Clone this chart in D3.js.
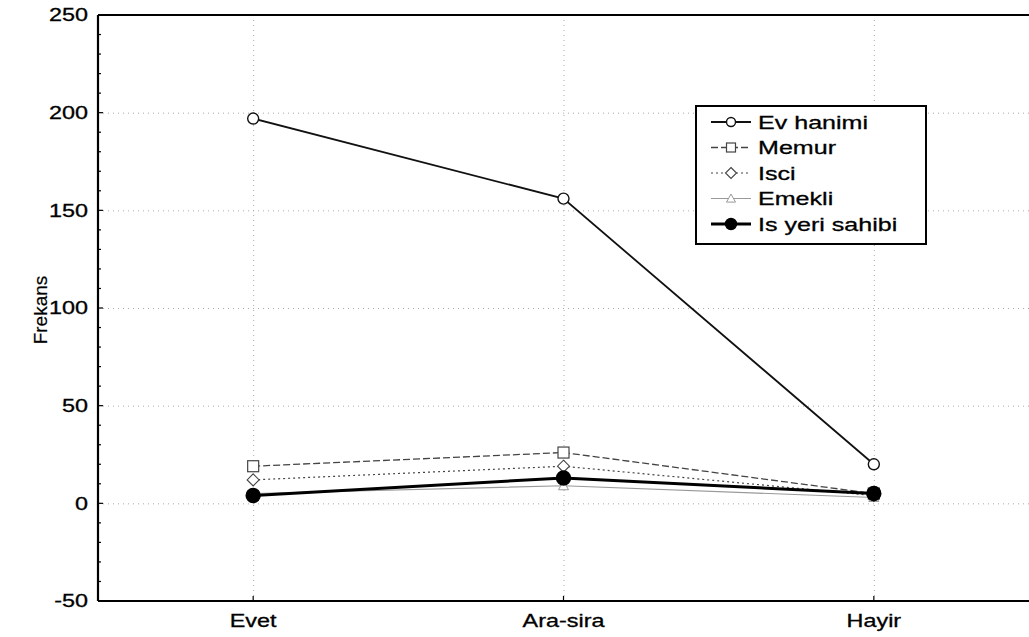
<!DOCTYPE html>
<html><head><meta charset="utf-8">
<script src="https://cdn.jsdelivr.net/npm/d3@7"></script>
<style>body{margin:0;background:#fff}svg{display:block}text{font-family:"Liberation Sans",Arial,sans-serif;fill:#000}</style>
</head><body>
<svg id="c" width="1029" height="637"></svg>
<script>
const categories = ["Evet", "Ara-sira", "Hayir"];
const seriesNames = ["Ev hanimi", "Memur", "Isci", "Emekli", "Is yeri sahibi"];
const evHanimi = [197, 156, 20];
const memur = [19, 26, 5];
const isci = [12, 19, 4];
const emekli = [5, 9, 3];
const isYeriSahibi = [4, 13, 5];
const yTicks = [-50, 0, 50, 100, 150, 200, 250];

const series = [
  {name: seriesNames[0], values: evHanimi, stroke: "#111", width: 1.8, dash: null, marker: "circle", fill: "#fff", size: 5.5},
  {name: seriesNames[1], values: memur, stroke: "#444", width: 1.3, dash: "7,3", marker: "square", fill: "#fff", size: 5.5},
  {name: seriesNames[2], values: isci, stroke: "#444", width: 1.2, dash: "2,3", marker: "diamond", fill: "#fff", size: 5},
  {name: seriesNames[3], values: emekli, stroke: "#999", width: 1.1, dash: null, marker: "triangle", fill: "#fff", size: 5},
  {name: seriesNames[4], values: isYeriSahibi, stroke: "#000", width: 3, dash: null, marker: "circle", fill: "#000", size: 7}
];

const STRETCH = 1.3;
const svg = d3.select("#c");
const L = 98, R = 1029, T = 15, B = 601;
const x = d3.scalePoint().domain(categories).range([L, R]).padding(0.5);
const y = d3.scaleLinear().domain([-50, 250]).range([B, T]);

function stext(g, tx, ty, str, size, anchor, k) {
  const gg = g.append("g").attr("transform", `translate(${tx},${ty}) scale(${k || STRETCH},1)`);
  return gg.append("text").attr("text-anchor", anchor).attr("dy", "0.35em").attr("font-size", size)
    .attr("stroke", "#000").attr("stroke-width", 0.3).text(str);
}

// grid
const grid = svg.append("g").attr("stroke", "#aaa").attr("stroke-width", 1).attr("stroke-dasharray", "1,4");
grid.selectAll("line.h").data(yTicks.filter(d => d > -50 && d < 250)).join("line")
  .attr("x1", L).attr("x2", R).attr("y1", d => y(d) + 0.5).attr("y2", d => y(d) + 0.5);
grid.selectAll("line.v").data(categories).join("line")
  .attr("y1", T).attr("y2", B).attr("x1", d => x(d) + 0.5).attr("x2", d => x(d) + 0.5);

// frame
svg.append("line").attr("x1", L).attr("x2", R).attr("y1", T).attr("y2", T).attr("stroke", "#000").attr("stroke-width", 2);
svg.append("line").attr("x1", L).attr("x2", R).attr("y1", B).attr("y2", B).attr("stroke", "#000").attr("stroke-width", 2);
svg.append("line").attr("x1", L).attr("x2", L).attr("y1", T).attr("y2", B).attr("stroke", "#000").attr("stroke-width", 2.2);

// y axis
const gy = svg.append("g");
yTicks.forEach(t => stext(gy, L - 10, y(t), String(t), 18, "end"));
const minor = d3.range(-50, 251, 10);
svg.append("g").selectAll("line").data(minor).join("line")
  .attr("x1", L).attr("x2", d => L + (d % 50 === 0 ? 5 : 3))
  .attr("y1", d => y(d)).attr("y2", d => y(d)).attr("stroke", "#000").attr("stroke-width", 1.2);

// x axis
const gx = svg.append("g");
categories.forEach(c => stext(gx, x(c), B + 20, c, 18, "middle"));
svg.append("g").selectAll("line").data(categories).join("line")
  .attr("x1", d => x(d)).attr("x2", d => x(d)).attr("y1", B).attr("y2", B - 5).attr("stroke", "#000").attr("stroke-width", 1.2);

// axis title
svg.append("text").attr("transform", `translate(47,${(T + B) / 2 + 2}) rotate(-90)`)
  .attr("text-anchor", "middle").attr("font-size", 19).attr("stroke", "#000").attr("stroke-width", 0.2).text("Frekans");

function drawMarker(g, type, cx, cy, s, fill, stroke) {
  if (type === "circle") g.append("circle").attr("cx", cx).attr("cy", cy).attr("r", s).attr("fill", fill).attr("stroke", stroke).attr("stroke-width", 1.4);
  else if (type === "square") g.append("rect").attr("x", cx - s).attr("y", cy - s).attr("width", 2 * s).attr("height", 2 * s).attr("fill", fill).attr("stroke", stroke).attr("stroke-width", 1.2);
  else if (type === "diamond") g.append("path").attr("d", `M${cx},${cy - s - 1}L${cx + s + 1},${cy}L${cx},${cy + s + 1}L${cx - s - 1},${cy}Z`).attr("fill", fill).attr("stroke", stroke).attr("stroke-width", 1.1);
  else if (type === "triangle") g.append("path").attr("d", `M${cx},${cy - s}L${cx + s},${cy + s * 0.8}L${cx - s},${cy + s * 0.8}Z`).attr("fill", fill).attr("stroke", stroke).attr("stroke-width", 1);
}

const line = d3.line().x((d, i) => x(categories[i])).y(d => y(d));
[3, 2, 1, 4, 0].forEach(k => {
  const s = series[k];
  const g = svg.append("g");
  g.append("path").attr("d", line(s.values)).attr("fill", "none").attr("stroke", s.stroke)
    .attr("stroke-width", s.width).attr("stroke-dasharray", s.dash);
  s.values.forEach((v, i) => drawMarker(g, s.marker, x(categories[i]), y(v), s.size, s.fill, s.stroke));
});

// legend
const lx = 696, ly = 106, lw = 230, lh = 138, rowH = 25.5;
const lg = svg.append("g");
lg.append("rect").attr("x", lx).attr("y", ly).attr("width", lw).attr("height", lh).attr("fill", "#fff").attr("stroke", "#000").attr("stroke-width", 2);
series.forEach((s, i) => {
  const cy = ly + 16 + i * rowH;
  lg.append("line").attr("x1", lx + 15).attr("x2", lx + 55).attr("y1", cy).attr("y2", cy)
    .attr("stroke", s.stroke).attr("stroke-width", s.width).attr("stroke-dasharray", s.dash);
  drawMarker(lg, s.marker, lx + 35, cy, s.fill === "#000" ? 5.5 : 4.5, s.fill, s.stroke);
  stext(lg, lx + 62, cy, s.name, 19, "start", 1.32);
});
</script>
</body></html>
